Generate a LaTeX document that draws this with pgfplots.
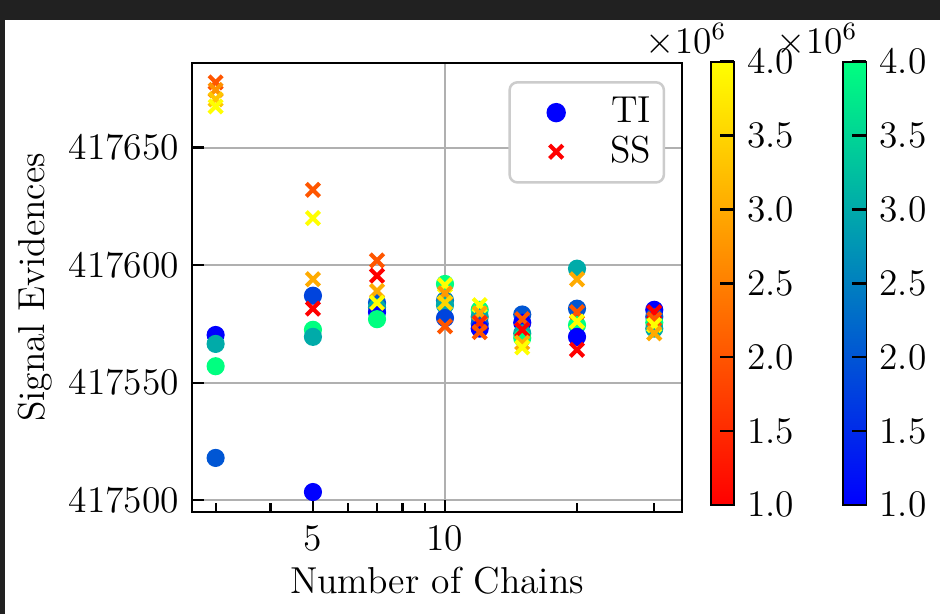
\documentclass[border=0pt,12pt]{standalone}
\usepackage{pgfplots}
\usepackage{pgfplotstable}
\pgfplotsset{compat=1.18}
\definecolor{bgdark}{HTML}{212121}
\definecolor{gridgray}{HTML}{B0B0B0}
\definecolor{legframe}{HTML}{CCCCCC}
\pgfplotsset{
  colormap={wintermap}{rgb=(0,0,1) rgb=(0,1,0.5)},
  colormap={autumnmap}{rgb=(1,0,0) rgb=(1,1,0)},
  cbstyle/.style={
    at={(parent axis.north east)}, anchor=north west, yshift=0.4pt,
    scale only axis, width=7.4pt, height=141.8pt,
    ytick={1,1.5,2,2.5,3,3.5,4},
    yticklabels={1.0,1.5,2.0,2.5,3.0,3.5,4.0},
    yticklabel pos=right, ytick pos=right,
    tick align=inside, major tick length=4.5pt,
    tick style={black, line width=0.8pt},
    axis line style={black, line width=0.6pt},
  },
  padlegend/.style={legend image code/.code={\path (-12.5pt,0pt) (3pt,0pt); \draw[##1] plot coordinates {(0pt,0pt)};}},
}
\pgfplotstableread{
x y m
3 417570.3 1.0
3 417566.5 3.0
3 417557.0 4.0
3 417518.0 2.0
5 417587.0 1.8
5 417572.5 4.0
5 417569.5 3.0
5 417503.5 1.0
7 417584.0 2.0
7 417582.0 3.0
7 417580.0 1.0
7 417577.0 4.0
10 417592.0 4.0
10 417585.0 2.5
10 417583.0 3.0
10 417577.5 1.8
12 417581.0 4.0
12 417578.0 3.0
12 417575.0 2.0
12 417573.0 1.0
15 417579.0 2.0
15 417575.5 1.0
15 417571.0 3.0
15 417569.0 4.0
20 417598.5 3.0
20 417581.5 2.0
20 417574.5 4.0
20 417569.5 1.0
30 417581.0 1.0
30 417578.0 2.0
30 417575.5 4.0
30 417573.0 3.0
}\tableTI
\pgfplotstableread{
x y m
3 417677.7 2.0
3 417674.5 2.7
3 417670.5 3.3
3 417667.5 4.0
5 417632.0 2.0
5 417620.0 4.0
5 417594.0 3.0
5 417581.5 1.0
7 417602.0 2.0
7 417595.5 1.0
7 417589.0 3.0
7 417584.0 4.0
10 417591.5 4.0
10 417588.0 2.8
10 417584.0 3.5
10 417574.0 2.0
12 417583.0 4.0
12 417579.5 3.0
12 417575.5 1.5
12 417571.5 2.0
15 417577.0 2.0
15 417572.5 1.0
15 417567.0 3.0
15 417565.0 4.0
20 417594.0 3.0
20 417580.0 2.0
20 417576.0 4.0
20 417564.0 1.0
30 417580.0 1.0
30 417577.0 2.0
30 417574.5 4.0
30 417571.0 3.0
}\tableSS
\begin{document}
\begin{tikzpicture}
\fill[bgdark] (-61.44pt,-32.64pt) rectangle (239.36pt,163.84pt);
\fill[white] (-59.84pt,-32.64pt) rectangle (239.36pt,157.44pt);
\begin{axis}[
  at={(0pt,0pt)}, anchor=south west,
  scale only axis, width=156.8pt, height=143.7pt,
  xmode=log, xmin=2.65, xmax=34.7,
  ymin=417495, ymax=417686,
  xtick={10}, xticklabels={10},
  extra x ticks={5}, extra x tick labels={5}, extra x tick style={grid=none},
  minor xtick={3,4,6,7,8,9,20,30},
  ytick={417500,417550,417600,417650},
  yticklabels={417500,417550,417600,417650},
  scaled y ticks=false,
  xtick pos=bottom, ytick pos=left,
  tick align=inside,
  major tick length=3.8pt, minor tick length=3pt,
  tick style={black, line width=0.7pt},
  grid=major,
  major grid style={gridgray, line width=0.65pt},
  axis line style={line width=0.6pt},
  xlabel={Number of Chains}, ylabel={Signal Evidences},
  xlabel shift=-3pt, ylabel shift=-3pt,
  point meta min=1, point meta max=4,
  legend style={at={(1,1)}, anchor=north east, xshift=-5.4pt, yshift=-5.8pt,
    draw=legframe, line width=0.8pt, rounded corners=2.5pt, fill=white,
    inner xsep=2pt, inner ysep=3.5pt, nodes={inner ysep=1.2pt}},
]
\addplot[scatter, only marks, forget plot, colormap name=wintermap, mark=*, mark size=2.7pt,
  point meta=explicit, scatter/use mapped color={draw=mapped color, fill=mapped color}]
  table[x=x, y=y, meta=m] {\tableTI};
\addplot[scatter, only marks, forget plot, colormap name=autumnmap, mark=x, mark size=3pt,
  mark options={line width=1.3pt},
  point meta=explicit, scatter/use mapped color={draw=mapped color, fill=mapped color}]
  table[x=x, y=y, meta=m] {\tableSS};
\addlegendimage{padlegend, only marks, mark=*, blue, mark size=2.7pt}
\addlegendentry{\hspace*{12pt}TI}
\addlegendimage{padlegend, only marks, mark=x, red, mark size=3pt, mark options={line width=1.3pt}}
\addlegendentry{\hspace*{12pt}SS}
\end{axis}
\begin{axis}[
  at={(0pt,0pt)}, anchor=south west,
  scale only axis, width=156.8pt, height=143.7pt,
  hide axis, xmin=0, xmax=1, ymin=0, ymax=1,
  colormap name=autumnmap, point meta min=1, point meta max=4,
  colorbar, colorbar style={cbstyle, xshift=0.8pt},
]
\end{axis}
\begin{axis}[
  at={(0pt,0pt)}, anchor=south west,
  scale only axis, width=156.8pt, height=143.7pt,
  hide axis, xmin=0, xmax=1, ymin=0, ymax=1,
  colormap name=wintermap, point meta min=1, point meta max=4,
  colorbar, colorbar style={cbstyle, xshift=43.1pt},
]
\end{axis}
\node at (158.1pt,151pt) {$\times10^{6}$};
\node at (200pt,151pt) {$\times10^{6}$};
\pgfresetboundingbox
\path[use as bounding box] (-61.44pt,-32.64pt) rectangle (239.36pt,163.84pt);
\end{tikzpicture}
\end{document}
